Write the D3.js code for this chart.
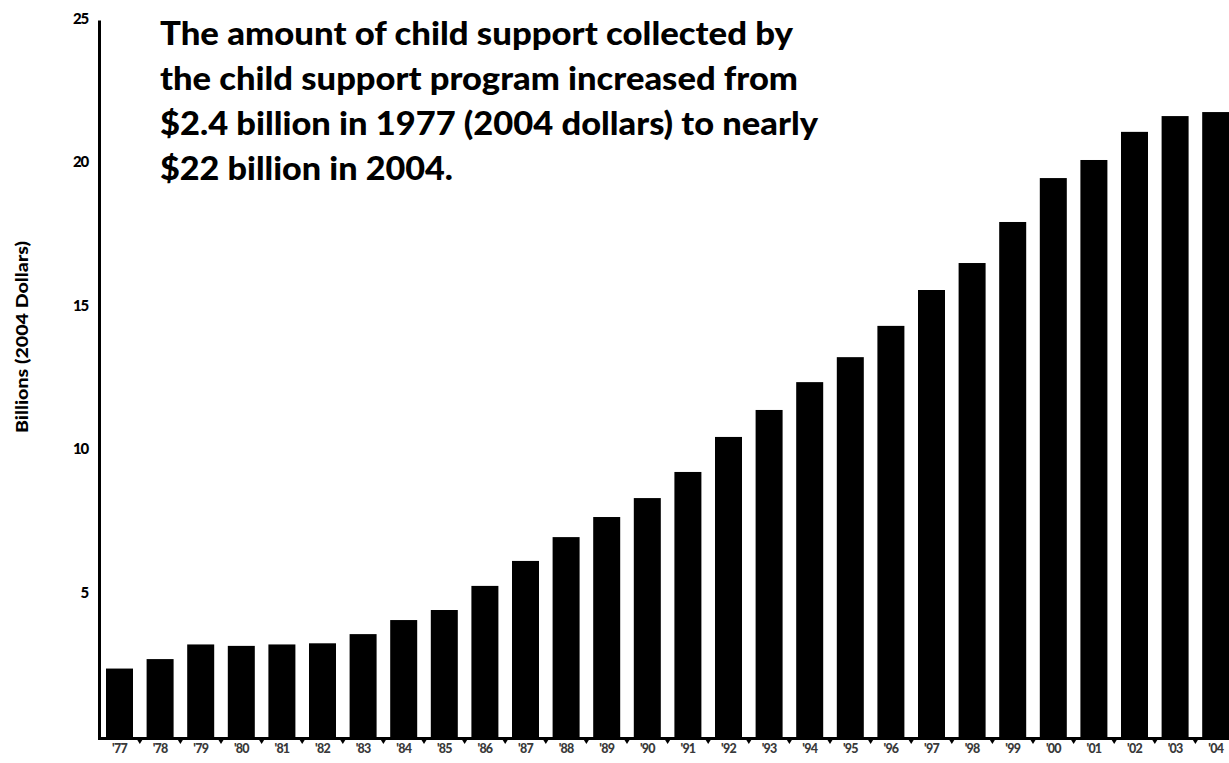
<!DOCTYPE html>
<html>
<head>
<meta charset="utf-8">
<script src="https://cdn.jsdelivr.net/npm/d3@7"></script>
<style>
  html, body { margin: 0; padding: 0; background: #fff; }
  svg { display: block; }
</style>
</head>
<body>
<svg id="chart" width="1229" height="763"></svg>
<script>
const years = ["'77","'78","'79","'80","'81","'82","'83","'84","'85","'86","'87","'88","'89","'90","'91","'92","'93","'94","'95","'96","'97","'98","'99","'00","'01","'02","'03","'04"];
const collections = [2.35, 2.68, 3.19, 3.14, 3.19, 3.23, 3.55, 4.04, 4.39, 5.23, 6.10, 6.93, 7.63, 8.29, 9.20, 10.42, 11.36, 12.33, 13.2, 14.29, 15.54, 16.48, 17.91, 19.44, 20.07, 21.05, 21.6, 21.74];
const yTicks = [5, 10, 15, 20, 25];
const subtitleLines = [
  "The amount of child support collected by",
  "the child support program increased from",
  "$2.4 billion in 1977 (2004 dollars) to nearly",
  "$22 billion in 2004."
];
const subtitleWidths = [633, 638, 658, 293];
const yLabel = "Billions (2004 Dollars)";

const svg = d3.select("#chart");
const font = "Lato, 'Open Sans', sans-serif";

const x = d3.scaleBand().domain(years).range([99.2, 99.2 + 28 * 40.6]).paddingInner(0.335).paddingOuter(0.1675);
const y = d3.scaleLinear().domain([0, 25]).range([736, 18.5]);

// bars
svg.append("g").selectAll("rect").data(collections).join("rect")
  .attr("x", (d, i) => x(years[i]))
  .attr("width", x.bandwidth())
  .attr("y", d => y(d))
  .attr("height", d => y(0) - y(d) + 2)
  .attr("fill", "#000");

// x axis line
svg.append("line").attr("x1", 98).attr("x2", 1229).attr("y1", y(0) + 2.5).attr("y2", y(0) + 2.5)
  .attr("stroke", "#000").attr("stroke-width", 3);
// y axis line
svg.append("line").attr("x1", 99.5).attr("x2", 99.5).attr("y1", y(25) + 2).attr("y2", y(0) + 4)
  .attr("stroke", "#000").attr("stroke-width", 3);

// small ticks between bars
const step = x.step();
svg.append("g").selectAll("path").data(years.slice(1)).join("path")
  .attr("d", d => {
    const bx = x(d) - x.paddingInner() * step / 2;
    const yb = y(0) + 4;
    return `M${bx - 2.5},${yb} L${bx + 2.5},${yb} L${bx},${yb + 4} Z`;
  })
  .attr("fill", "#000");

// x labels
const xAxis = d3.axisBottom(x).tickSize(0).tickPadding(0);
const gx = svg.append("g").attr("transform", `translate(0,${y(0) + 8})`).call(xAxis);
gx.select(".domain").remove();
gx.selectAll("text")
  .attr("dy", "0.71em")
  .attr("font-family", font)
  .attr("font-weight", 900)
  .attr("font-size", 12.5)
  .attr("fill", "#3a3a3a")
  .attr("letter-spacing", "-0.8");

// y labels
const yAxis = d3.axisLeft(y).tickValues(yTicks).tickSize(0).tickPadding(0);
const gy = svg.append("g").attr("transform", "translate(88,0)").call(yAxis);
gy.select(".domain").remove();
gy.selectAll("text")
  .attr("font-family", font)
  .attr("font-weight", 900)
  .attr("font-size", 15)
  .attr("fill", "#000")
  .attr("letter-spacing", "-1.2");

// y axis title
svg.append("text")
  .attr("transform", "translate(28,337) rotate(-90)")
  .attr("text-anchor", "middle")
  .attr("font-family", font)
  .attr("font-weight", 900)
  .attr("font-size", 16)
  .attr("fill", "#000")
  .attr("textLength", 192)
  .attr("lengthAdjust", "spacingAndGlyphs")
  .text(yLabel);

// subtitle
svg.append("g").selectAll("text").data(subtitleLines).join("text")
  .attr("x", 160)
  .attr("y", (d, i) => 45 + i * 45)
  .attr("font-family", font)
  .attr("font-weight", 900)
  .attr("font-size", 32)
  .attr("fill", "#000")
  .attr("textLength", (d, i) => subtitleWidths[i])
  .attr("lengthAdjust", "spacingAndGlyphs")
  .text(d => d);
</script>
</body>
</html>
